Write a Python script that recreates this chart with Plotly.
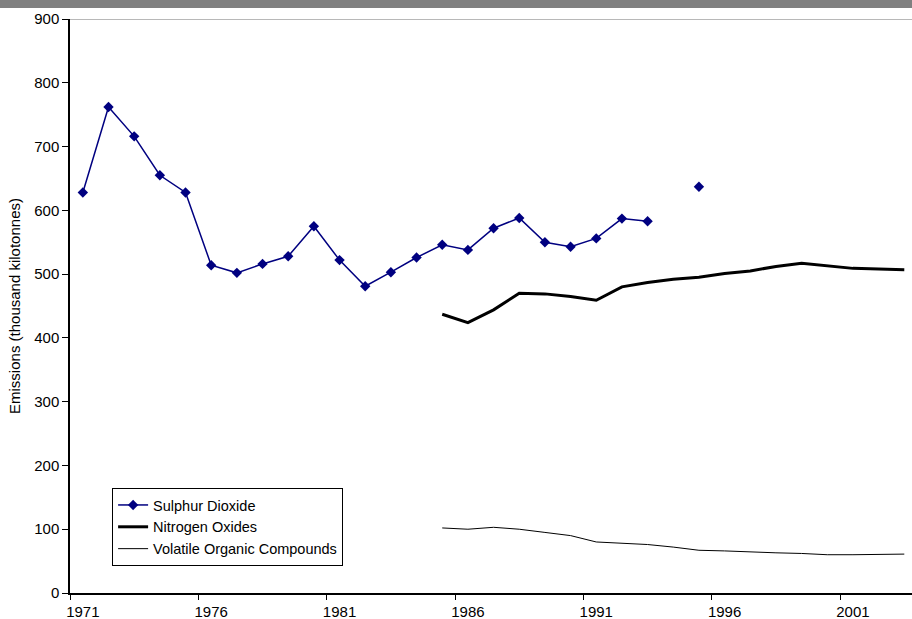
import plotly.graph_objects as go

years = list(range(1971, 2004))

so2 = [628, 762, 716, 655, 628, 514, 502, 516, 528, 575, 522, 481, 503, 526,
       546, 538, 572, 588, 550, 543, 556, 587, 583, None, 637,
       None, None, None, None, None, None, None, None]

nox = [None] * 14 + [437, 424, 444, 470, 469, 465, 459, 480, 487, 492, 495,
                     501, 505, 512, 517, 513, 509, 508, 507]

voc = [None] * 14 + [102, 100, 103, 100, 95, 90, 80, 78, 76, 72, 67,
                     66, 64, 63, 62, 60, 60, 61, 61]

label_years = [1971, 1976, 1981, 1986, 1991, 1996, 2001]
y_ticks = list(range(0, 1000, 100))

FONT = "Arial, Liberation Sans, sans-serif"

fig = go.Figure()
fig.add_trace(go.Scatter(
    x=years, y=so2, name="Sulphur Dioxide", mode="lines+markers",
    line=dict(color="#000080", width=1.5),
    marker=dict(symbol="diamond", size=8, color="#000080"),
    connectgaps=False))
fig.add_trace(go.Scatter(
    x=years, y=nox, name="Nitrogen Oxides", mode="lines",
    line=dict(color="black", width=3), connectgaps=False))
fig.add_trace(go.Scatter(
    x=years, y=voc, name="Volatile Organic Compounds", mode="lines",
    line=dict(color="black", width=1), connectgaps=False))

fig.update_layout(
    width=912, height=619,
    margin=dict(l=70, r=0, t=19, b=26),
    paper_bgcolor="white", plot_bgcolor="white",
    font=dict(family=FONT, size=15, color="black"),
    showlegend=True,
    legend=dict(x=0.05, y=0.047, xanchor="left", yanchor="bottom",
                bordercolor="black", borderwidth=1, bgcolor="white",
                font=dict(size=14.5), tracegroupgap=0),
    xaxis=dict(
        range=[1970.5, 2003.3], showgrid=False, zeroline=False,
        showline=True, linecolor="black", linewidth=1.5,
        automargin=False,
        tickmode="array", tickvals=label_years,
        ticktext=[str(y) for y in label_years],
        ticks="outside", ticklen=4, tickcolor="rgba(0,0,0,0)",
        tickfont=dict(size=15),
        minor=dict(tickmode="array",
                   tickvals=[y - 0.5 for y in label_years] + [2005.5],
                   ticks="outside", ticklen=5, tickcolor="black",
                   tickwidth=1, showgrid=False),
    ),
    yaxis=dict(
        range=[0, 900], showgrid=False, zeroline=False,
        showline=True, linecolor="black", linewidth=1.5,
        automargin=False,
        tickmode="array", tickvals=y_ticks,
        ticks="outside", ticklen=6, tickcolor="black", tickwidth=1,
        tickfont=dict(size=15),
        title=dict(text="Emissions (thousand kilotonnes)",
                   font=dict(size=15), standoff=10),
    ),
    shapes=[
        dict(type="rect", xref="paper", yref="paper",
             x0=-70 / 842, x1=1.0, y0=1 + 11 / 574, y1=1 + 19 / 574,
             fillcolor="#808080", line=dict(width=0), layer="above"),
        dict(type="line", xref="x", yref="y", x0=1970.5, x1=2003.3,
             y0=900, y1=900, line=dict(color="#a0a0a0", width=1.5)),
    ],
)

fig.write_html("out.html")
